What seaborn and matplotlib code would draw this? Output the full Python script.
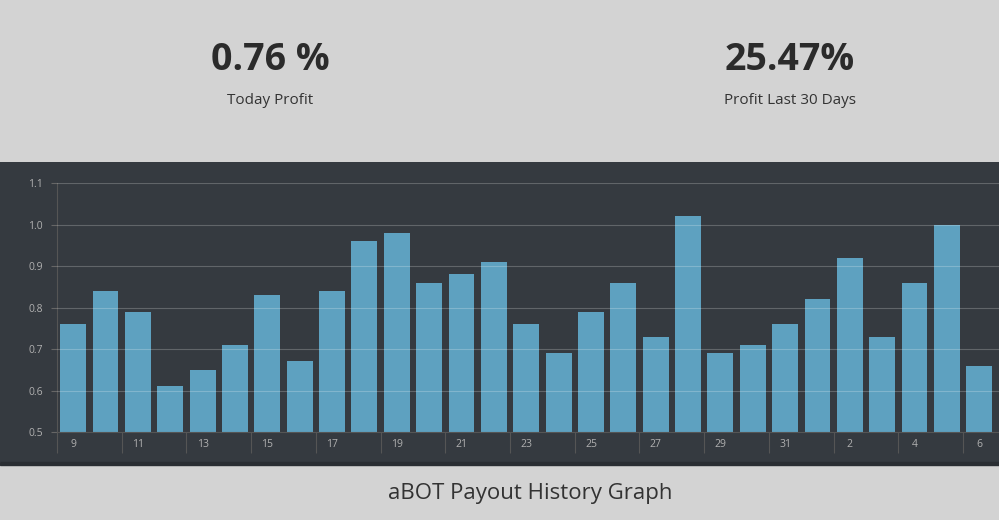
import matplotlib
matplotlib.use("Agg")
import matplotlib.pyplot as plt
import numpy as np
import pandas as pd
import seaborn as sns

days = ["9", "10", "11", "12", "13", "14", "15", "16", "17", "18", "19", "20", "21", "22",
        "23", "24", "25", "26", "27", "28", "29", "30", "31", "1", "2", "3", "4", "5", "6"]
payout = [0.76, 0.84, 0.79, 0.61, 0.65, 0.71, 0.83, 0.67, 0.84, 0.96, 0.98, 0.86, 0.88, 0.91,
          0.76, 0.69, 0.79, 0.86, 0.73, 1.02, 0.69, 0.71, 0.76, 0.82, 0.92, 0.73, 0.86, 1.00, 0.66]
y_ticks = [0.5, 0.6, 0.7, 0.8, 0.9, 1.0, 1.1]
today_profit = "0.76 %"
month_profit = "25.47%"

W, H = 999, 520
fig = plt.figure(figsize=(W / 100, H / 100), dpi=100)
fig.patch.set_facecolor("#d3d3d3")
font = "Open Sans"

# dark panel
panel = fig.add_axes([0, 1 - 462 / H, 1, 300 / H])
panel.set_facecolor("#353a40")
panel.set_xticks([]); panel.set_yticks([])
for s in panel.spines.values():
    s.set_visible(False)
fig.patches.append(plt.Rectangle((0, 1 - 465 / H), 1, 3 / H, transform=fig.transFigure,
                                 color="#2a2e33", zorder=0))

ax = fig.add_axes([57 / W, 1 - 432 / H, 1 - 57 / W, (432 - 183) / H])
ax.set_facecolor("none")
df = pd.DataFrame({"day": days, "payout": payout})
df["pos"] = np.arange(len(df))
sns.barplot(data=df, x="pos", y="payout", color="#5ea1c0", saturation=1, width=0.8,
            ax=ax, native_scale=True, zorder=2)
ax.set_xlim(-0.463, 28.61)
ax.set_ylim(0.5, 1.1)
for v in y_ticks[1:]:
    ax.axhline(v, color="white", alpha=0.22, lw=0.8, zorder=3)
ax.set_yticks(y_ticks)
ax.set_yticklabels([f"{v:.1f}" for v in y_ticks], fontsize=7.5, color="#b0b0b0", family=font)
ax.tick_params(axis="y", length=4, color="#666", pad=6)

even = df["pos"][::2]
ax.set_xticks(even - 0.5)
ax.set_xticklabels([])
ax.tick_params(axis="x", which="major", length=15, color="#555", direction="out")
ax.set_xticks(even, minor=True)
ax.set_xticklabels(df["day"][::2], minor=True, fontsize=7.5, color="#b0b0b0", family=font)
ax.tick_params(axis="x", which="minor", length=0, pad=5)
ax.set_xlabel(""); ax.set_ylabel("")
for k, s in ax.spines.items():
    s.set_visible(k in ("left", "bottom"))
    s.set_color("#555")

fig.text(270 / W, 1 - 60 / H, today_profit, ha="center", va="center", fontsize=27,
         fontweight="bold", color="#2b2b2b", family=font)
fig.text(270 / W, 1 - 100 / H, "Today Profit", ha="center", va="center", fontsize=11,
         color="#333", family=font)
fig.text(790 / W, 1 - 60 / H, month_profit, ha="center", va="center", fontsize=27,
         fontweight="bold", color="#2b2b2b", family=font)
fig.text(790 / W, 1 - 100 / H, "Profit Last 30 Days", ha="center", va="center", fontsize=11,
         color="#333", family=font)
fig.text(530 / W, 1 - 493 / H, "aBOT Payout History Graph", ha="center", va="center",
         fontsize=16, color="#333", family=font)

fig.savefig("out.png", dpi=100, facecolor=fig.get_facecolor())
